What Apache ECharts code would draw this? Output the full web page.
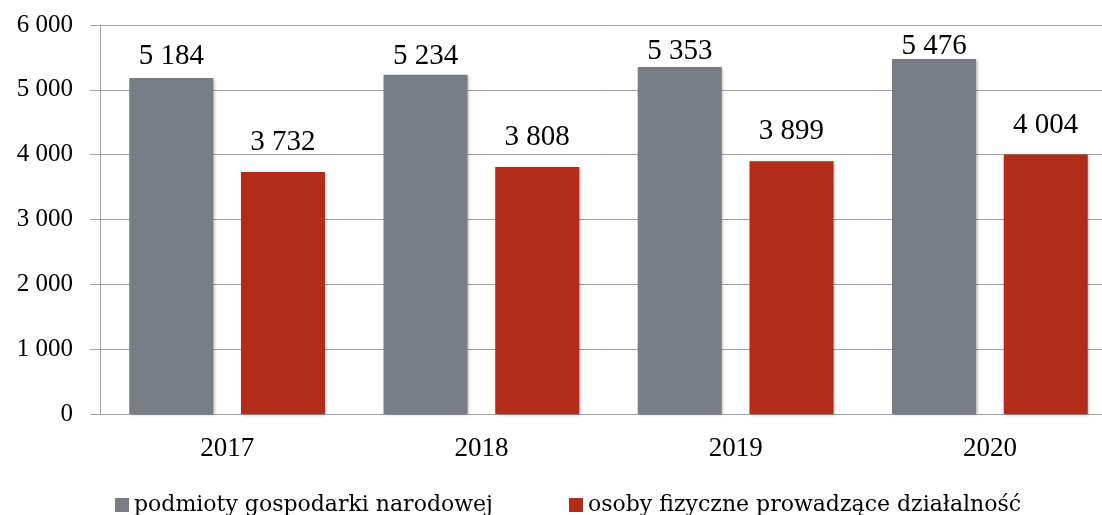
<!DOCTYPE html>
<html>
<head>
<meta charset="utf-8">
<script src="https://cdn.jsdelivr.net/npm/echarts@6/dist/echarts.min.js"></script>
<style>html,body{margin:0;padding:0;background:#fff}#c{width:1102px;height:515px}</style>
</head>
<body>
<div id="c"></div>
<script>
const categories = ['2017', '2018', '2019', '2020'];
const seriesNames = ['podmioty gospodarki narodowej', 'osoby fizyczne prowadzące działalność'];
const podmioty = [5184, 5234, 5353, 5476];
const osoby = [3732, 3808, 3899, 4004];
const yTicks = [0, 1000, 2000, 3000, 4000, 5000, 6000];
// label gap above bar (styling, px)
const podmiotyLabelGap = [7.5, 4, 1.5, -1.5];
const osobyLabelGap = [15, 15, 15, 14.5];

const FONT = '"Liberation Serif", "DejaVu Serif", serif';
const LFONT = '"DejaVu Serif", serif';
const fmt = v => String(v).replace(/\B(?=(\d{3})+(?!\d))/g, ' ');
const axisGray = '#a3a3a3';

const chart = echarts.init(document.getElementById('c'), null, {renderer: 'canvas'});
const labelBase = {
  show: true, position: 'top',
  fontFamily: FONT, fontSize: 29, color: '#000',
  formatter: p => fmt(p.value)
};
const withGaps = (vals, gaps) => vals.map((v, i) => ({value: v, label: {distance: gaps[i]}}));
const shadow = {shadowBlur: 3, shadowOffsetX: 1.5, shadowOffsetY: 1, shadowColor: 'rgba(0,0,0,0.3)'};
const legendCommon = {
  top: 494, itemWidth: 14, itemHeight: 14, padding: 0, icon: 'rect',
  textStyle: {fontFamily: LFONT, fontSize: 22, color: '#000'}
};
chart.setOption({
  animation: false,
  textStyle: {fontFamily: FONT},
  grid: {left: 100, top: 25, bottom: 101, width: 1017, containLabel: false, outerBoundsMode: 'none'},
  legend: [
    Object.assign({data: [seriesNames[0]], left: 115}, legendCommon),
    Object.assign({data: [seriesNames[1]], left: 569}, legendCommon)
  ],
  xAxis: {
    type: 'category', data: categories,
    axisLine: {lineStyle: {color: axisGray, width: 1}},
    axisTick: {length: 8, lineStyle: {color: axisGray}},
    axisLabel: {fontFamily: FONT, fontSize: 27, color: '#000', margin: 21}
  },
  yAxis: {
    type: 'value', min: yTicks[0], max: yTicks[yTicks.length - 1], interval: 1000,
    axisLine: {show: true, lineStyle: {color: axisGray, width: 1}},
    axisTick: {show: true, length: 10, lineStyle: {color: axisGray}},
    splitLine: {lineStyle: {color: axisGray, width: 1}},
    axisLabel: {fontFamily: FONT, fontSize: 25, color: '#000', margin: 27, formatter: v => fmt(v)}
  },
  series: [
    {name: seriesNames[0], type: 'bar', data: withGaps(podmioty, podmiotyLabelGap), barWidth: 84, barGap: '33%',
     itemStyle: Object.assign({color: '#787c85'}, shadow), label: labelBase},
    {name: seriesNames[1], type: 'bar', data: withGaps(osoby, osobyLabelGap), barWidth: 84, barGap: '33%',
     itemStyle: Object.assign({color: '#b22c19'}, shadow), label: labelBase}
  ]
});
</script>
</body>
</html>
